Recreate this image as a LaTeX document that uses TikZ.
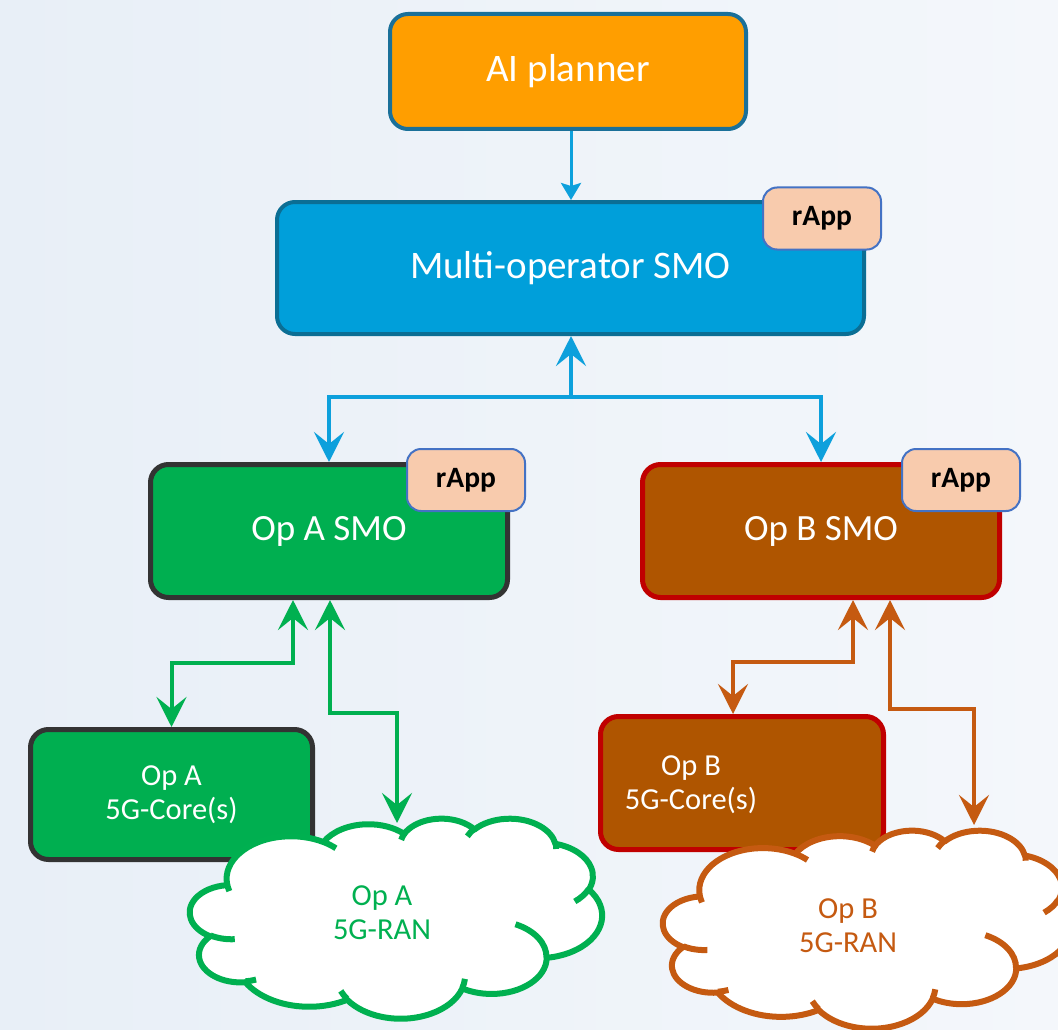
\documentclass[tikz,border=0pt]{standalone}
\usepackage{fontspec}
\setmainfont{Carlito}
\usetikzlibrary{arrows.meta}
\definecolor{bgl}{HTML}{E8EFF7}
\definecolor{bgr}{HTML}{F4F7FB}
\definecolor{aiorange}{HTML}{FF9E00}
\definecolor{aiborder}{HTML}{1A7099}
\definecolor{smoblue}{HTML}{009FDA}
\definecolor{smoborder}{HTML}{0B6E94}
\definecolor{opagreen}{HTML}{00AF50}
\definecolor{opaborder}{HTML}{333333}
\definecolor{opbbrown}{HTML}{AF5500}
\definecolor{opbborder}{HTML}{C00000}
\definecolor{rappfill}{HTML}{F8CBAD}
\definecolor{rappborder}{HTML}{4472C4}
\definecolor{linkblue}{HTML}{0DA0DC}
\definecolor{linkgreen}{HTML}{00B050}
\definecolor{linkorange}{HTML}{C55A11}
\tikzset{
  bigtip/.tip={Stealth[length=30pt,width=30pt,inset=12pt]},
  smalltip/.tip={Stealth[length=17pt,width=20pt,inset=3pt]},
}
% visual (DrawingML) arc angles -> parametric angles
\newcommand\ppcalc[5]{%
  \pgfmathsetmacro\ppts{atan2(#2*sin(#4), #3*cos(#4))}%
  \pgfmathsetmacro\ppte{atan2(#2*sin(#4+#5), #3*cos(#4+#5))}%
  \pgfmathsetmacro\ppdt{\ppte-\ppts}%
  \ifdim #5pt>0pt
    \ifdim \ppdt pt<0pt \pgfmathsetmacro\ppdt{\ppdt+360}\fi
  \else
    \ifdim \ppdt pt>0pt \pgfmathsetmacro\ppdt{\ppdt-360}\fi
  \fi
  \expandafter\xdef\csname ppS#1\endcsname{\ppts}%
  \expandafter\xdef\csname ppD#1\endcsname{\ppdt}%
}
\ppcalc{A}{67.53}{91.90}{-190.48748}{123.78053}
\ppcalc{B}{53.33}{72.67}{-144.10238}{89.94523}
\ppcalc{C}{43.65}{59.45}{-145.80792}{99.72302}
\ppcalc{D}{48.57}{65.95}{-130.98607}{117.24173}
\ppcalc{E}{53.33}{72.73}{-78.70888}{109.02692}
\ppcalc{F}{67.75}{92.20}{-46.26725}{130.26900}
\ppcalc{G}{57.85}{78.67}{0.62502}{114.03333}
\ppcalc{H}{67.52}{92.15}{22.45160}{115.17255}
\ppcalc{I}{77.20}{105.43}{66.24263}{75.71102}
\ppcalc{J}{43.60}{59.18}{-274.94208}{146.73557}
\ppcalc{K}{43.45}{59.45}{-246.82850}{152.51885}
\ppcalc{a}{43.45}{59.45}{86.74200}{26.42950}
\ppcalc{b}{43.60}{59.18}{73.61047}{11.44747}
\ppcalc{c}{67.52}{92.15}{137.62415}{14.08110}
\ppcalc{d}{67.52}{92.15}{6.45327}{15.99835}
\ppcalc{e}{57.85}{78.67}{-70.29235}{70.91737}
\ppcalc{f}{53.33}{72.73}{30.31803}{27.75150}
\ppcalc{g}{48.57}{65.95}{-13.74433}{14.85890}
\ppcalc{h}{48.57}{65.95}{-149.18145}{18.19537}
\ppcalc{i}{43.65}{59.45}{-163.49427}{17.68635}
\ppcalc{j}{67.53}{91.90}{-66.70695}{12.31935}
\ppcalc{k}{67.53}{91.90}{157.65435}{11.85817}
\newcommand\pparc[3]{arc[x radius=#1, y radius=#2, start angle=\csname ppS#3\endcsname, delta angle=\csname ppD#3\endcsname]}
% cloud: left, top, width, height, colour
\newcommand\ppcloud[5]{%
  \begin{scope}[shift={(#1,#2)}, xscale=#3/432, yscale=#4/432]
    \filldraw[fill=white, draw=#5, line width=6pt, line join=round]
      (39.00,143.70) \pparc{67.53}{91.90}{A} \pparc{53.33}{72.67}{B}
      \pparc{43.65}{59.45}{C} \pparc{48.57}{65.95}{D} \pparc{53.33}{72.73}{E}
      \pparc{67.75}{92.20}{F} \pparc{57.85}{78.67}{G} \pparc{67.52}{92.15}{H}
      \pparc{77.20}{105.43}{I} \pparc{43.60}{59.18}{J} \pparc{43.45}{59.45}{K} -- cycle;
    \draw[draw=#5, line width=6pt]
      (46.93,261.77) \pparc{43.45}{59.45}{a}
      (69.28,348.99) \pparc{43.60}{59.18}{b}
      (164.78,390.90) \pparc{67.52}{92.15}{c}
      (288.27,347.51) \pparc{67.52}{92.15}{d}
      (341.29,229.54) \pparc{57.85}{78.67}{e}
      (417.98,153.54) \pparc{53.33}{72.73}{f}
      (383.24,54.26) \pparc{48.57}{65.95}{g}
      (290.78,39.52) \pparc{48.57}{65.95}{h}
      (221.41,47.20) \pparc{43.65}{59.45}{i}
      (140.00,51.92) \pparc{67.53}{91.90}{j}
      (41.27,157.89) \pparc{67.53}{91.90}{k};
  \end{scope}}
\begin{document}
\begin{tikzpicture}[x=1pt,y=-1pt,
  bigbox/.style={rectangle, rounded corners=18pt, line width=4pt, text=white,
    font=\fontsize{39}{47}\selectfont, inner sep=0pt},
  opsmo/.style={bigbox, line width=5pt, minimum width=357pt, minimum height=133pt,
    font=\fontsize{37}{44}\selectfont},
  corebox/.style={rectangle, rounded corners=18pt, line width=5pt, inner sep=0pt},
  rappbox/.style={rectangle, rounded corners=14pt, draw=rappborder, fill=rappfill,
    line width=2pt, minimum width=118pt, minimum height=62pt,
    font=\bfseries\fontsize{29.5}{35}\selectfont, inner sep=0pt},
  smalltext/.style={align=center, font=\fontsize{30.5}{34}\selectfont, inner sep=0pt},
  bluethin/.style={draw=linkblue, line width=3pt, arrows={-smalltip}},
  bluebus/.style={draw=linkblue, line width=4pt},
  greenlink/.style={draw=linkgreen, line width=4pt, arrows={bigtip-bigtip}},
  orangelink/.style={draw=linkorange, line width=4pt, arrows={bigtip-bigtip}},
]
\useasboundingbox (0,0) rectangle (1058,1030);
\shade[left color=bgl, right color=bgr] (0,0) rectangle (1058,1030);

% boxes
\node[bigbox, draw=aiborder, fill=aiorange, minimum width=356pt, minimum height=115pt]
  (ai) at (568,71.5) {AI planner};
\node[bigbox, draw=smoborder, fill=smoblue, minimum width=587pt, minimum height=132pt]
  (smo) at (570.5,268) {Multi-operator SMO};
\node[rappbox] (rapp) at (822,218.5) {rApp};

\node[opsmo, draw=opaborder, fill=opagreen] (opa) at (329,531) {Op A SMO};
\node[rappbox] (rappa) at (466,480) {rApp};
\node[opsmo, draw=opbborder, fill=opbbrown] (opb) at (821,531) {Op B SMO};
\node[rappbox] (rappb) at (961,480) {rApp};

\node[corebox, draw=opaborder, fill=opagreen, minimum width=282pt, minimum height=130pt]
  (coreA) at (171.5,794.5) {};
\node[smalltext, text=white] (coreAtext) at (171.5,795) {Op A\\5G-Core(s)};
\node[corebox, draw=opbborder, fill=opbbrown, minimum width=283pt, minimum height=133pt]
  (coreB) at (742,783) {};
\node[smalltext, text=white] (coreBtext) at (691,785) {Op B\\5G-Core(s)};

% clouds
\ppcloud{190}{818}{412}{200}{linkgreen}
\node[smalltext, text=linkgreen] (ranAtext) at (382,913) {Op A\\5G-RAN};
\ppcloud{663}{830}{408}{198}{linkorange}
\node[smalltext, text=linkorange] (ranBtext) at (848,926) {Op B\\5G-RAN};

% helper coordinates
\coordinate (xai) at (571,0);
\coordinate (bus) at (571,397);
\coordinate (ga1) at (293,0);
\coordinate (ga2) at (330,0);
\coordinate (ranAin) at (397,823);
\coordinate (ob1) at (853,0);
\coordinate (ob2) at (890,0);
\coordinate (coreBin) at (733,0);
\coordinate (ranBin) at (974,825);

% connectors
\draw[bluethin] (ai.south -| xai) -- (smo.north -| xai);
\draw[bluebus, arrows={bigtip-bigtip}] (opa.north) |- (bus) -- (bus |- smo.south);
\draw[bluebus, arrows={-bigtip}] (bus) -| (opb.north);

\draw[greenlink] (ga1 |- opa.south) |- (coreA.north |- 0,663) -- (coreA.north);
\draw[greenlink] (ga2 |- opa.south) |- (ranAin |- 0,713) -- (ranAin);

\draw[orangelink] (ob1 |- opb.south) |- (coreBin |- 0,662) -- (coreBin |- coreB.north);
\draw[orangelink] (ob2 |- opb.south) |- (ranBin |- 0,709) -- (ranBin);
\end{tikzpicture}
\end{document}
